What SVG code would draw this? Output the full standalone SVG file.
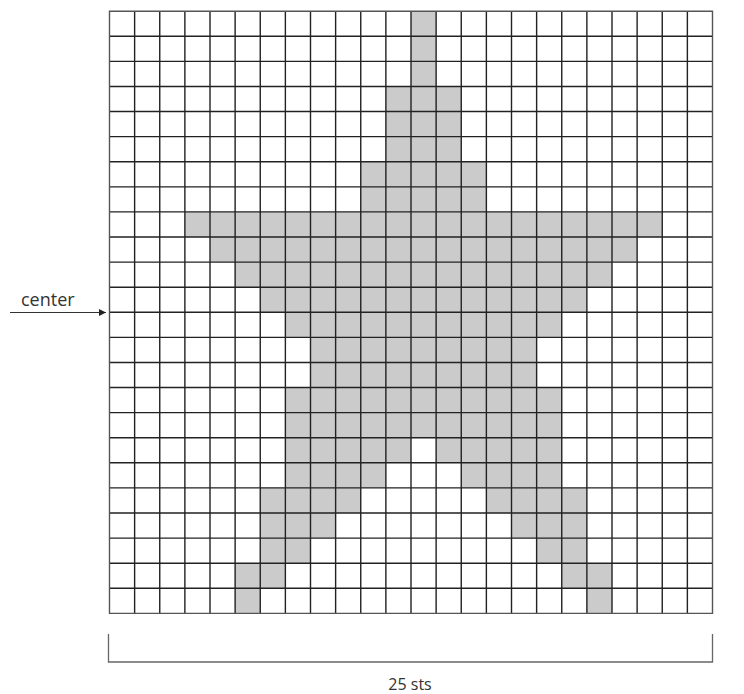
<svg xmlns="http://www.w3.org/2000/svg" width="744" height="694" viewBox="0 0 744 694">
<style>
.cell{fill:#cbcbcb;stroke:none}
.grid{fill:none;stroke:#222;stroke-width:1.4}
.border{fill:none;stroke:#555;stroke-width:1.4}
.lbl{font-family:"Open Sans","Liberation Sans",sans-serif;fill:#333}
.brk{fill:none;stroke:#666;stroke-width:1.3}
</style>
<defs>
<marker id="ah" viewBox="0 0 10 10" refX="10" refY="5" markerWidth="7" markerHeight="7" markerUnits="userSpaceOnUse" orient="auto">
<path d="M0,0 L10,5 L0,10 z" fill="#222"/>
</marker>
</defs>
<rect width="744" height="694" fill="#fff"/>
<g id="chart" transform="translate(109.5 11.2) scale(25.125 25.09)">
<g id="star">
<rect class="cell" x="12" y="0" width="1" height="3"/>
<rect class="cell" x="11" y="3" width="3" height="3"/>
<rect class="cell" x="10" y="6" width="5" height="2"/>
<rect class="cell" x="3" y="8" width="19" height="1"/>
<rect class="cell" x="4" y="9" width="17" height="1"/>
<rect class="cell" x="5" y="10" width="15" height="1"/>
<rect class="cell" x="6" y="11" width="13" height="1"/>
<rect class="cell" x="7" y="12" width="11" height="1"/>
<rect class="cell" x="8" y="13" width="9" height="2"/>
<rect class="cell" x="7" y="15" width="11" height="2"/>
<rect class="cell" x="7" y="17" width="5" height="1"/>
<rect class="cell" x="13" y="17" width="5" height="1"/>
<rect class="cell" x="7" y="18" width="4" height="1"/>
<rect class="cell" x="14" y="18" width="4" height="1"/>
<rect class="cell" x="6" y="19" width="4" height="1"/>
<rect class="cell" x="15" y="19" width="4" height="1"/>
<rect class="cell" x="6" y="20" width="3" height="1"/>
<rect class="cell" x="16" y="20" width="3" height="1"/>
<rect class="cell" x="6" y="21" width="2" height="1"/>
<rect class="cell" x="17" y="21" width="2" height="1"/>
<rect class="cell" x="5" y="22" width="2" height="1"/>
<rect class="cell" x="18" y="22" width="2" height="1"/>
<rect class="cell" x="5" y="23" width="1" height="1"/>
<rect class="cell" x="19" y="23" width="1" height="1"/>
</g>
<g id="grid">
<path class="grid" vector-effect="non-scaling-stroke" d="M1 0V24M2 0V24M3 0V24M4 0V24M5 0V24M6 0V24M7 0V24M8 0V24M9 0V24M10 0V24M11 0V24M12 0V24M13 0V24M14 0V24M15 0V24M16 0V24M17 0V24M18 0V24M19 0V24M20 0V24M21 0V24M22 0V24M23 0V24M0 1H24M0 2H24M0 3H24M0 4H24M0 5H24M0 6H24M0 7H24M0 8H24M0 9H24M0 10H24M0 11H24M0 12H24M0 13H24M0 14H24M0 15H24M0 16H24M0 17H24M0 18H24M0 19H24M0 20H24M0 21H24M0 22H24M0 23H24"/>
<rect class="border" vector-effect="non-scaling-stroke" x="0" y="0" width="24" height="24"/>
</g>
</g>
<g id="center-label">
<text class="lbl" x="21" y="306" font-size="18">center</text>
</g>
<g id="connectors">
<line x1="10" y1="312.5" x2="106" y2="312.5" stroke="#333" stroke-width="1.1" marker-end="url(#ah)"/>
</g>
<g id="width-bracket">
<path class="brk" d="M108.5 634V662H712.5V634"/>
<text class="lbl" x="410" y="690" font-size="16" text-anchor="middle">25 sts</text>
</g>
</svg>
